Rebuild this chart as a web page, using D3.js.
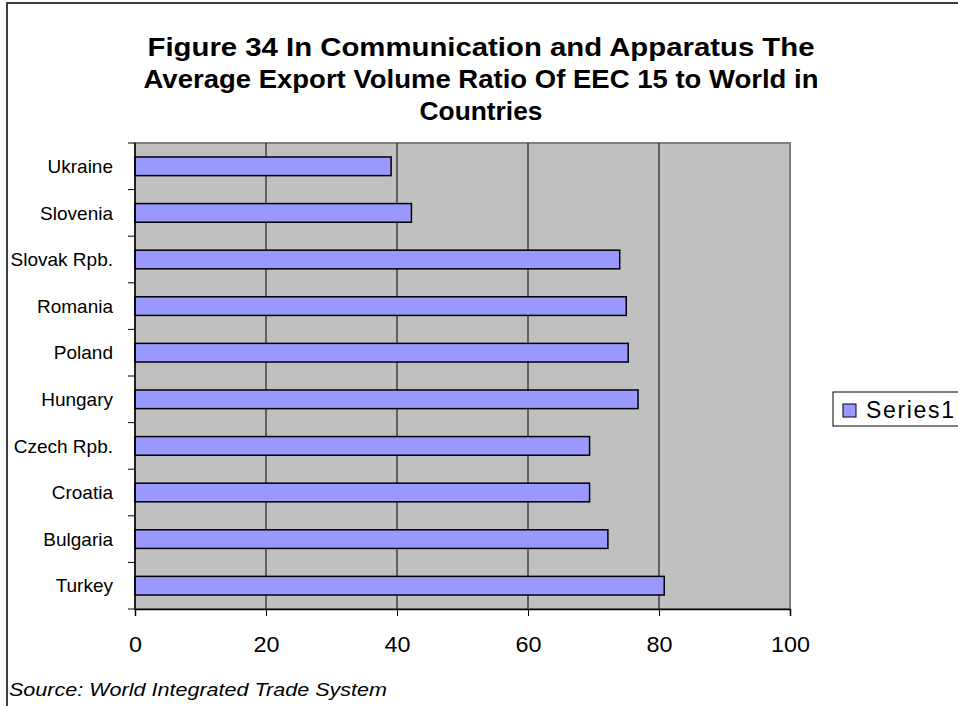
<!DOCTYPE html>
<html><head><meta charset="utf-8">
<script src="https://cdn.jsdelivr.net/npm/d3@7"></script>
<style>html,body{margin:0;padding:0;background:#fff;}svg{display:block;font-family:"Liberation Sans",Arial,sans-serif;}</style>
</head><body>
<script>
const categories = ["Turkey","Bulgaria","Croatia","Czech Rpb.","Hungary","Poland","Romania","Slovak Rpb.","Slovenia","Ukraine"];
const values = [80.8, 72.2, 69.4, 69.4, 76.8, 75.3, 75.0, 74.0, 42.2, 39.1];
const xTicks = [0, 20, 40, 60, 80, 100];
const titleLines = ["Figure 34 In Communication and Apparatus The","Average Export Volume Ratio Of EEC 15 to World in","Countries"];
const seriesName = "Series1";
const sourceText = "Source: World Integrated Trade System";

const W = 958, H = 706;
const svg = d3.select("body").append("svg").attr("width", W).attr("height", H);

// outer chart frame (extends past right/bottom edge)
svg.append("rect").attr("x", 7).attr("y", 3).attr("width", W + 20).attr("height", H + 20)
  .attr("fill", "#fff").attr("stroke", "#404040").attr("stroke-width", 2);

// title
const titleLens = [667, 675, 123];
svg.append("g").selectAll("text").data(titleLines).join("text")
  .attr("x", 481).attr("y", (d, i) => 56 + i * 32)
  .attr("text-anchor", "middle").attr("font-weight", "bold").attr("font-size", 26)
  .attr("textLength", (d, i) => titleLens[i]).attr("lengthAdjust", "spacingAndGlyphs")
  .text(d => d);

const plot = {l: 135, r: 790, t: 143, b: 609};
const x = d3.scaleLinear().domain([0, 100]).range([plot.l, plot.r]);
const y = d3.scaleBand().domain(categories.slice().reverse()).range([plot.t, plot.b]).paddingInner(0.6).paddingOuter(0.3);

// plot background
svg.append("rect").attr("x", plot.l).attr("y", plot.t).attr("width", plot.r - plot.l).attr("height", plot.b - plot.t)
  .attr("fill", "#C0C0C0").attr("stroke", "#808080").attr("stroke-width", 2);

// gridlines
svg.append("g").selectAll("line").data(xTicks.filter(t => t > 0 && t < 100)).join("line")
  .attr("x1", d => x(d)).attr("x2", d => x(d)).attr("y1", plot.t).attr("y2", plot.b)
  .attr("stroke", "#000").attr("stroke-width", 1);

// bars
svg.append("g").selectAll("rect").data(categories).join("rect")
  .attr("x", x(0)).attr("y", d => y(d))
  .attr("width", (d, i) => x(values[i]) - x(0)).attr("height", y.bandwidth())
  .attr("fill", "#9999FF").attr("stroke", "#000").attr("stroke-width", 1.5);

// x axis
const xAxis = d3.axisBottom(x).tickValues(xTicks).tickSize(7).tickPadding(20);
const gx = svg.append("g").attr("transform", `translate(0,${plot.b})`).call(xAxis);
gx.select(".domain").attr("stroke", "#000").attr("stroke-width", 1.5);
gx.selectAll(".tick line").attr("stroke", "#000");
gx.selectAll(".tick text").attr("font-size", 22).attr("font-family", "'Liberation Sans',Arial,sans-serif").attr("fill", "#000")
  .attr("textLength", d => String(d).length * 13).attr("lengthAdjust", "spacingAndGlyphs");

// y axis: line with ticks at category boundaries
const step = (plot.b - plot.t) / categories.length;
const boundaries = d3.range(categories.length + 1).map(i => plot.t + i * step);
svg.append("line").attr("x1", plot.l).attr("x2", plot.l).attr("y1", plot.t).attr("y2", plot.b)
  .attr("stroke", "#000").attr("stroke-width", 1.5);
svg.append("g").selectAll("line").data(boundaries).join("line")
  .attr("x1", plot.l - 7).attr("x2", plot.l).attr("y1", d => d).attr("y2", d => d)
  .attr("stroke", "#000");
svg.append("g").selectAll("text").data(categories).join("text")
  .attr("x", 113).attr("y", d => y(d) + y.bandwidth() / 2)
  .attr("dy", "0.35em").attr("text-anchor", "end").attr("font-size", 19)
  .text(d => d);

// legend
svg.append("rect").attr("x", 833).attr("y", 392).attr("width", 140).attr("height", 34)
  .attr("fill", "#fff").attr("stroke", "#000").attr("stroke-width", 1);
svg.append("rect").attr("x", 843).attr("y", 404).attr("width", 13).attr("height", 13)
  .attr("fill", "#9999FF").attr("stroke", "#000").attr("stroke-width", 1);
svg.append("text").attr("x", 866).attr("y", 418).attr("font-size", 23)
  .attr("textLength", 88).attr("lengthAdjust", "spacing").text(seriesName);

// source
svg.append("text").attr("x", 9).attr("y", 696).attr("font-size", 19).attr("font-style", "italic")
  .attr("textLength", 378).attr("lengthAdjust", "spacingAndGlyphs").text(sourceText);
</script>
</body></html>
